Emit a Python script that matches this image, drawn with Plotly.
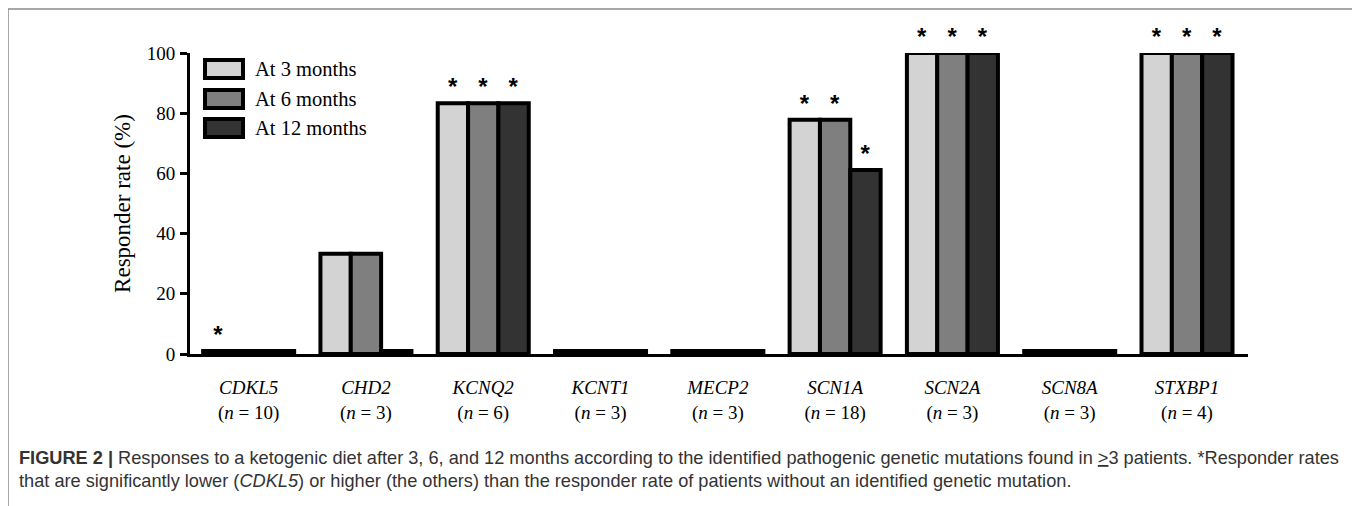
import plotly.graph_objects as go

genes = ["CDKL5", "CHD2", "KCNQ2", "KCNT1", "MECP2", "SCN1A", "SCN2A", "SCN8A", "STXBP1"]
n_patients = [10, 3, 6, 3, 3, 18, 3, 3, 4]
series_names = ["At 3 months", "At 6 months", "At 12 months"]
rate_3m = [1, 33.3, 83.3, 1, 1, 77.8, 100, 1, 100]
rate_6m = [1, 33.3, 83.3, 1, 1, 77.8, 100, 1, 100]
rate_12m = [1, 1, 83.3, 1, 1, 61.1, 100, 1, 100]
star_3m = ["*", "", "*", "", "", "*", "*", "", "*"]
star_6m = ["", "", "*", "", "", "*", "*", "", "*"]
star_12m = ["", "", "*", "", "", "*", "*", "", "*"]
y_ticks = [0, 20, 40, 60, 80, 100]
caption_1 = ("<b>FIGURE 2 |</b> Responses to a ketogenic diet after 3, 6, and 12 months according to the "
             "identified pathogenic genetic mutations found in <u>></u>3 patients. *Responder rates")
caption_2 = ("that are significantly lower (<i>CDKL5</i>) or higher (the others) than the responder rate "
             "of patients without an identified genetic mutation.")

colors = ["#d3d3d3", "#7f7f7f", "#333333"]
SERIF = "Liberation Serif, Times New Roman, serif"
SANS = "Liberation Sans, Arial, sans-serif"

# page offset (body margin) and target screen geometry
OX, OY = 8, 8
W, H = 1360 - OX, 506 - OY
L, R, T, B = 190, 1248, 53, 354  # plot area in screen pixels


def px_x(px):
    return (px - L) / (R - L)


def px_y(py):
    return (B - py) / (B - T)


x_idx = list(range(len(genes)))
ticktext = [f"<i>{g}</i><br>(<i>n</i> = {n})" for g, n in zip(genes, n_patients)]

fig = go.Figure()
for name, vals, stars, col in zip(series_names, [rate_3m, rate_6m, rate_12m],
                                  [star_3m, star_6m, star_12m], colors):
    fig.add_trace(go.Bar(
        x=x_idx, y=vals, name=name,
        marker=dict(color=col, line=dict(color="black", width=4)),
        text=stars, textposition="outside", constraintext="none",
        textfont=dict(family=SANS, size=24, color="black", weight="bold"),
        cliponaxis=False, showlegend=False, hoverinfo="skip",
    ))

# custom legend
row_centers = [69, 99, 128]
shapes = []
annotations = []
for name, col, yc in zip(series_names, colors, row_centers):
    shapes.append(dict(type="rect", xref="paper", yref="paper",
                       x0=px_x(205), x1=px_x(243), y0=px_y(yc + 9), y1=px_y(yc - 9),
                       fillcolor=col, line=dict(color="black", width=4), layer="above"))
    annotations.append(dict(xref="paper", yref="paper", x=px_x(253), y=px_y(yc),
                            xanchor="left", yanchor="middle", text=name, showarrow=False,
                            font=dict(family=SERIF, size=20.5, color="black")))

# outer frame
shapes.append(dict(type="rect", xref="paper", yref="paper",
                   x0=px_x(8), x1=px_x(1355), y0=px_y(520), y1=px_y(9),
                   line=dict(color="#8c8c8c", width=1.5), fillcolor="rgba(0,0,0,0)", layer="below"))

annotations.append(dict(xref="paper", yref="paper", x=px_x(17), y=px_y(458),
                        xanchor="left", yanchor="middle", text=caption_1, showarrow=False,
                        font=dict(family=SANS, size=18.2, color="#333333")))
annotations.append(dict(xref="paper", yref="paper", x=px_x(17), y=px_y(481),
                        xanchor="left", yanchor="middle", text=caption_2, showarrow=False,
                        font=dict(family=SANS, size=18.2, color="#333333")))

fig.update_layout(
    width=W, height=H,
    margin=dict(l=L - OX, r=1360 - R, t=T - OY, b=506 - B, autoexpand=False),
    paper_bgcolor="white", plot_bgcolor="white",
    barmode="group", bargap=0.224, bargroupgap=0,
    showlegend=False,
    shapes=shapes, annotations=annotations,
    xaxis=dict(range=[-0.5, 8.52], tickmode="array", tickvals=x_idx, ticktext=ticktext,
               showline=True, linecolor="black", linewidth=3, ticks="", showgrid=False,
               zeroline=False, ticklabelstandoff=14,
               tickfont=dict(family=SERIF, size=19, color="black")),
    yaxis=dict(range=[0, 100], tickmode="array", tickvals=y_ticks,
               showline=True, linecolor="black", linewidth=3, ticks="outside",
               ticklen=7, tickwidth=3, tickcolor="black", showgrid=False, zeroline=False,
               ticklabelstandoff=1,
               tickfont=dict(family=SERIF, size=19, color="black"),
               title=dict(text="Responder rate (%)", standoff=10,
                          font=dict(family=SERIF, size=23, color="black"))),
)

fig.write_html("out.html")
